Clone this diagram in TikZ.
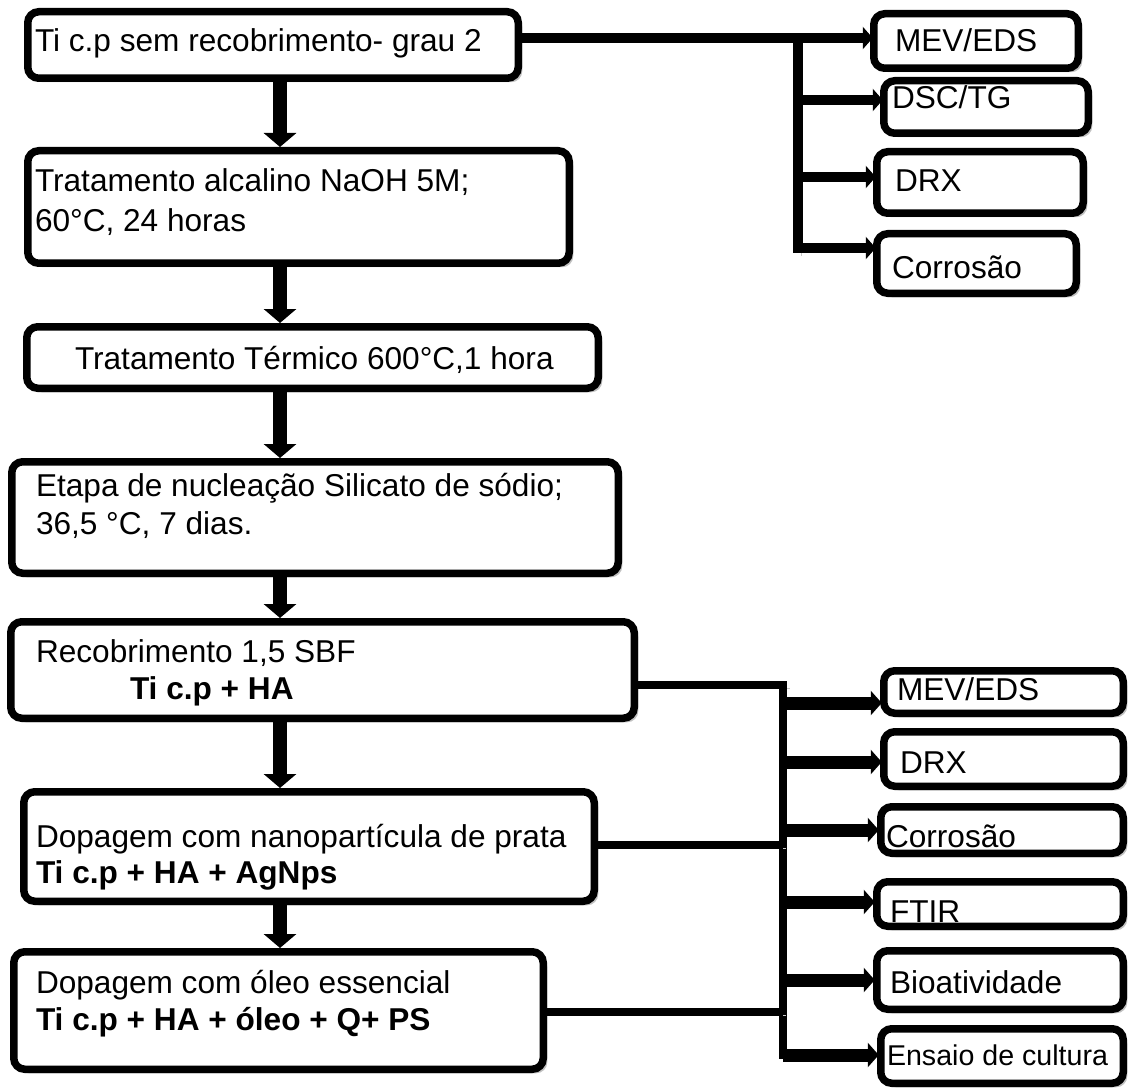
\documentclass[tikz,border=0pt]{standalone}
\usepackage{fontspec}
\setmainfont{Liberation Sans}
\usetikzlibrary{arrows.meta,shadows}
\begin{document}
\begin{tikzpicture}[x=1pt,y=-1pt,
  box/.style={draw=black, line width=7.5pt, rounded corners=11pt, fill=white, inner sep=0pt, outer sep=0pt,
    drop shadow={shadow xshift=4pt, shadow yshift=-4pt, fill=black!35, opacity=0.7}},
  lbl/.style={anchor=base west, inner sep=0pt, outer sep=0pt, font=\fontsize{31.6}{37}\selectfont},
  blbl/.style={lbl, font=\fontsize{31.6}{37}\selectfont\bfseries},
  slbl/.style={lbl, font=\fontsize{28.6}{34}\selectfont},
  lshadow/.style={preaction={draw=black!22, transform canvas={xshift=3pt,yshift=-3pt}}},
  mainarrow/.style={line width=14pt, -{Triangle[width=32pt,length=14pt]}},
  toparrow/.style={line width=10pt, -{Triangle[width=22pt,length=10pt]}},
  lowarrow/.style={line width=13pt, -{Triangle[width=24pt,length=11pt]}},
  topline/.style={line width=10pt, lshadow},
  lowline/.style={line width=8pt, lshadow}]
\useasboundingbox (0,0) rectangle (1129,1091);

% main column boxes
\node[box, minimum width=490.5pt, minimum height=66.5pt] (b1) at (273,45) {};
\node[box, minimum width=541.5pt, minimum height=112.5pt] (b2) at (298.5,207) {};
\node[box, minimum width=571.5pt, minimum height=61.5pt] (b3) at (312.5,357.5) {};
\node[box, minimum width=606.5pt, minimum height=111.5pt] (b4) at (315,517.5) {};
\node[box, minimum width=623.5pt, minimum height=96.5pt] (b5) at (322.5,670) {};
\node[box, minimum width=570.5pt, minimum height=109.5pt] (b6) at (309,846.5) {};
\node[box, minimum width=529.5pt, minimum height=117.5pt] (b7) at (278.5,1010.5) {};

% right top boxes
\node[box, minimum width=204.5pt, minimum height=54.5pt] (r1) at (976,41) {};
\node[box, minimum width=204.5pt, minimum height=52.5pt] (r2) at (986,107) {};
\node[box, minimum width=206.5pt, minimum height=61.5pt] (r3) at (980,182.5) {};
\node[box, minimum width=199.5pt, minimum height=59.5pt] (r4) at (976.5,263.5) {};

% right lower boxes
\node[box, minimum width=239.5pt, minimum height=42.5pt] (s1) at (1003.5,692) {};
\node[box, minimum width=239.5pt, minimum height=54.5pt] (s2) at (1003.5,759) {};
\node[box, minimum width=242.5pt, minimum height=46.5pt] (s3) at (1002,830) {};
\node[box, minimum width=246.5pt, minimum height=44.5pt] (s4) at (1000,904) {};
\node[box, minimum width=246.5pt, minimum height=58.5pt] (s5) at (1000,980) {};
\node[box, minimum width=242.5pt, minimum height=54.5pt] (s6) at (1002,1056) {};

% main vertical arrows
\coordinate (ax) at (280,0);
\draw[mainarrow] (b1.south -| ax) -- ([yshift=3.75pt]b2.north -| ax);
\draw[mainarrow] (b2.south -| ax) -- ([yshift=3.75pt]b3.north -| ax);
\draw[mainarrow] (b3.south -| ax) -- ([yshift=3.75pt]b4.north -| ax);
\draw[mainarrow] (b4.south -| ax) -- ([yshift=3.75pt]b5.north -| ax);
\draw[mainarrow] (b5.south -| ax) -- ([yshift=3.75pt]b6.north -| ax);
\draw[mainarrow] (b6.south -| ax) -- ([yshift=3.75pt]b7.north -| ax);

% top branch
\coordinate (j1) at (798,38);
\coordinate (j2) at (798,100);
\coordinate (j3) at (798,177);
\coordinate (j4) at (798,248);
\coordinate (j5) at (798,253);
\draw[topline] (j1) -- (j5);
\draw[toparrow] (b1.east |- j1) -- ([xshift=-1pt]r1.west |- j1);
\draw[toparrow] (j2) -- ([xshift=-1pt]r2.west |- j2);
\draw[toparrow] (j3) -- ([xshift=-1pt]r3.west |- j3);
\draw[toparrow] (j4) -- ([xshift=-1pt]r4.west |- j4);

% lower branch
\coordinate (m1) at (783,685);
\coordinate (m2) at (783,845);
\coordinate (m3) at (783,1012);
\coordinate (m4) at (783,1059);
\coordinate (n1) at (783,703);
\coordinate (n2) at (783,762);
\coordinate (n3) at (783,830);
\coordinate (n4) at (783,902);
\coordinate (n5) at (783,980);
\coordinate (n6) at (783,1055);
\draw[lowline] (m1) -- (m4);
\draw[lowline] (b5.east |- m1) -- ([xshift=4pt]m1);
\draw[lowline] (b6.east |- m2) -- (m2);
\draw[lowline] (b7.east |- m3) -- (m3);
\draw[lowarrow] (n1) -- ([xshift=-2pt]s1.west |- n1);
\draw[lowarrow] (n2) -- ([xshift=-2pt]s2.west |- n2);
\draw[lowarrow] (n3) -- ([xshift=-2pt]s3.west |- n3);
\draw[lowarrow] (n4) -- ([xshift=-2pt]s4.west |- n4);
\draw[lowarrow] (n5) -- ([xshift=-2pt]s5.west |- n5);
\draw[lowarrow] (n6) -- ([xshift=-2pt]s6.west |- n6);

% labels
\node[lbl] (t1) at (35,52) {Ti c.p sem recobrimento- grau 2};
\node[lbl] (t2a) at (35,192) {Tratamento alcalino NaOH 5M;};
\node[lbl] (t2b) at (35,232) {60°C, 24 horas};
\node[lbl] (t3) at (75,369) {Tratamento Térmico 600°C,1 hora};
\node[lbl] (t4a) at (36,496) {Etapa de nucleação Silicato de sódio;};
\node[lbl] (t4b) at (36,534) {36,5 °C, 7 dias.};
\node[lbl] (t5a) at (36,662) {Recobrimento 1,5 SBF};
\node[blbl] (t5b) at (130,699) {Ti c.p + HA};
\node[lbl] (t6a) at (36,847) {Dopagem com nanopartícula de prata};
\node[blbl] (t6b) at (36,883) {Ti c.p + HA + AgNps};
\node[lbl] (t7a) at (36,993) {Dopagem com óleo essencial};
\node[blbl] (t7b) at (36,1030) {Ti c.p + HA + óleo + Q+ PS};

\node[lbl] (u1) at (895,52) {MEV/EDS};
\node[lbl] (u2) at (892,109) {DSC/TG};
\node[lbl] (u3) at (895,192) {DRX};
\node[lbl] (u4) at (892,278) {Corrosão};

\node[lbl] (v1) at (897,700) {MEV/EDS};
\node[lbl] (v2) at (900,773) {DRX};
\node[lbl] (v3) at (886,847) {Corrosão};
\node[lbl] (v4) at (890,922) {FTIR};
\node[lbl] (v5) at (890,993) {Bioatividade};
\node[slbl] (v6) at (887,1065) {Ensaio de cultura};
\end{tikzpicture}
\end{document}
